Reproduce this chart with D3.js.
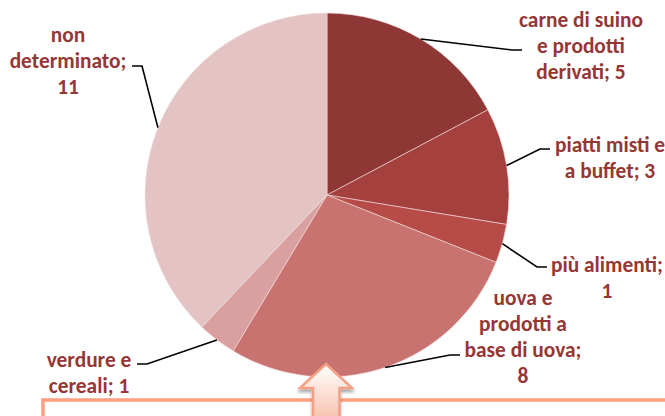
<!DOCTYPE html>
<html>
<head>
<meta charset="utf-8">
<script src="https://cdn.jsdelivr.net/npm/d3@7"></script>
<style>
  html, body { margin: 0; padding: 0; background: #fff; }
  svg { display: block; }
</style>
</head>
<body>
<svg id="chart" width="665" height="416"></svg>
<script>
// Outbreaks by food vehicle
const categories = [
  "carne di suino e prodotti derivati",
  "piatti misti e a buffet",
  "più alimenti",
  "uova e prodotti a base di uova",
  "verdure e cereali",
  "non determinato"
];
const values = [5, 3, 1, 8, 1, 11];
// words per label line (label text = category + "; " + value)
const wordsPerLine = [[3, 2, 2], [3, 3], [2, 1], [2, 2, 3, 1], [2, 2], [1, 1, 1]];

const colors = ["#8E3735", "#A4413F", "#B64B48", "#C97371", "#D9A09F", "#E3C3C4"];
const textColor = "#953735";

// label layout: centre x, first-line centre y, leader elbow x, elbow y, end x
const labelLayout = [
  { x: 581, y: 20,  ex: 512, ey: 50,  tx: 522 },
  { x: 610, y: 145, ex: 540, ey: 149, tx: 550 },
  { x: 607, y: 265, ex: 537, ey: 267, tx: 547 },
  { x: 523, y: 298, ex: 450, ey: 355, tx: 460 },
  { x: 89,  y: 360, ex: 147, ey: 364, tx: 137 },
  { x: 68,  y: 35,  ex: 142, ey: 66,  tx: 132 }
];

const svg = d3.select("#chart");
const cx = 327, cy = 195, R = 182;
const fontFamily = "Carlito, Calibri, Lato, sans-serif";

const pie = d3.pie().sort(null).value(d => d)(values);
const arc = d3.arc().innerRadius(0).outerRadius(R);

const g = svg.append("g").attr("transform", `translate(${cx},${cy})`);
g.selectAll("path.slice")
  .data(pie)
  .join("path")
  .attr("class", "slice")
  .attr("d", arc)
  .attr("fill", (d, i) => colors[i])
  .attr("stroke", "#f3dede")
  .attr("stroke-width", 0.6);

// leader lines from slice midpoints on the rim
const line = d3.line();
pie.forEach((d, i) => {
  const a = (d.startAngle + d.endAngle) / 2;
  const px = cx + R * Math.sin(a), py = cy - R * Math.cos(a);
  const L = labelLayout[i];
  svg.append("path")
    .attr("d", line([[px, py], [L.ex, L.ey], [L.tx, L.ey]]))
    .attr("fill", "none")
    .attr("stroke", "#000")
    .attr("stroke-width", 1.6);
});

// pick a font size so the text width matches the label design
const probe = svg.append("text")
  .attr("font-family", fontFamily).attr("font-weight", "bold")
  .attr("font-size", 20).text("carne di suino");
const w20 = probe.node().getComputedTextLength();
probe.remove();
const fontSize = 20 * 124 / w20;

categories.forEach((c, i) => {
  const words = (c + "; " + values[i]).split(" ");
  const lines = [];
  let k = 0;
  wordsPerLine[i].forEach(n => { lines.push(words.slice(k, k + n).join(" ")); k += n; });
  const L = labelLayout[i];
  const t = svg.append("text")
    .attr("font-family", fontFamily)
    .attr("font-weight", "bold")
    .attr("font-size", fontSize)
    .attr("fill", textColor)
    .attr("text-anchor", "middle");
  lines.forEach((s, j) => {
    t.append("tspan")
      .attr("x", L.x)
      .attr("y", L.y + j * 25.7)
      .attr("dy", "0.35em")
      .text(s);
  });
});

// callout box
svg.append("rect")
  .attr("x", 43).attr("y", 400)
  .attr("width", 700).attr("height", 100)
  .attr("fill", "#fff")
  .attr("stroke", "#FF9F80")
  .attr("stroke-width", 3.5);

// up arrow
const defs = svg.append("defs");
const grad = defs.append("linearGradient")
  .attr("id", "arrowFill").attr("x1", 0).attr("y1", 0).attr("x2", 0).attr("y2", 1);
grad.append("stop").attr("offset", "0%").attr("stop-color", "#ffffff");
grad.append("stop").attr("offset", "100%").attr("stop-color", "#F7C0AC");
const shadow = defs.append("filter").attr("id", "arrowShadow")
  .attr("x", "-30%").attr("y", "-30%").attr("width", "160%").attr("height", "160%");
shadow.append("feDropShadow")
  .attr("dx", 0).attr("dy", 3).attr("stdDeviation", 1.5)
  .attr("flood-color", "#000").attr("flood-opacity", 0.35);

const arrowPts = [[326, 364], [352, 388], [339.5, 388], [339.5, 420],
                  [313, 420], [313, 388], [300, 388]];
svg.append("path")
  .attr("d", d3.line()(arrowPts) + "Z")
  .attr("fill", "url(#arrowFill)")
  .attr("stroke", "#F4A085")
  .attr("stroke-width", 2.5)
  .attr("stroke-linejoin", "miter")
  .attr("filter", "url(#arrowShadow)");
</script>
</body>
</html>
